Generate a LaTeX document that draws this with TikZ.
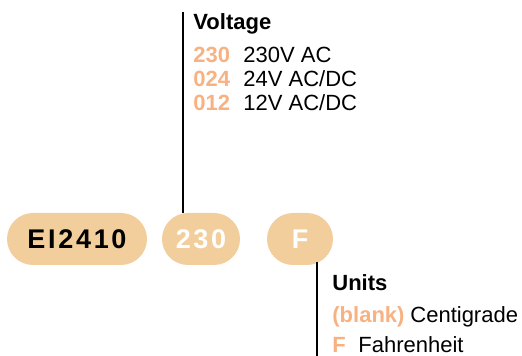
\documentclass[tikz,border=0pt]{standalone}
\usepackage{fontspec}
\setmainfont{Liberation Sans}
\usepackage{tikz}
\usetikzlibrary{positioning}

\definecolor{pillcol}{HTML}{F2CE9C}
\definecolor{codecol}{HTML}{F8B282}

\tikzset{
    pill/.style={fill=pillcol, rounded corners=13pt, minimum height=26pt, inner sep=0pt,
        font=\fontsize{13.5pt}{15pt}\selectfont\bfseries\addfontfeature{LetterSpace=10}},
    txt/.style={anchor=base west, inner sep=0pt, font=\fontsize{11pt}{12pt}\selectfont},
    code/.style={txt, text=codecol, font=\fontsize{11pt}{12pt}\selectfont\bfseries},
    head/.style={txt, font=\fontsize{11pt}{12pt}\selectfont\bfseries},
}

\begin{document}
\begin{tikzpicture}[x=0.5pt, y=-0.5pt]
    \useasboundingbox (0,0) rectangle (522,356);
    % part number pills
    \node[pill, minimum width=70pt] (ei) at (77,239) {EI2410};
    \node[pill, minimum width=39pt, text=white] (volt) at (201,239) {230};
    \node[pill, minimum width=33pt, text=white] (unit) at (300,239) {F};
    % voltage options
    \coordinate (vtop) at (183,12);
    \draw[line width=1pt] (vtop) -- (vtop |- volt.north);
    \node[head] (vhead) at (193,30) {Voltage};
    \node[code] (c230) at (193,63) {230};
    \node[txt]  (t230) at (243,63) {230V AC};
    \node[code] (c024) at (193,87) {024};
    \node[txt]  (t024) at (243,87) {24V AC/DC};
    \node[code] (c012) at (193,111) {012};
    \node[txt]  (t012) at (243,111) {12V AC/DC};
    % units options
    \coordinate (ubot) at (317,356);
    \draw[line width=1pt] (ubot |- unit.south) ++(0,-3) -- (ubot);
    \node[head] (uhead) at (332,291) {Units};
    \node[code] (cblank) at (332,322) {(blank)};
    \node[txt]  (tblank) at (410,322) {Centigrade};
    \node[code] (cf) at (332,352) {F};
    \node[txt]  (tf) at (358,352) {Fahrenheit};
\end{tikzpicture}
\end{document}
